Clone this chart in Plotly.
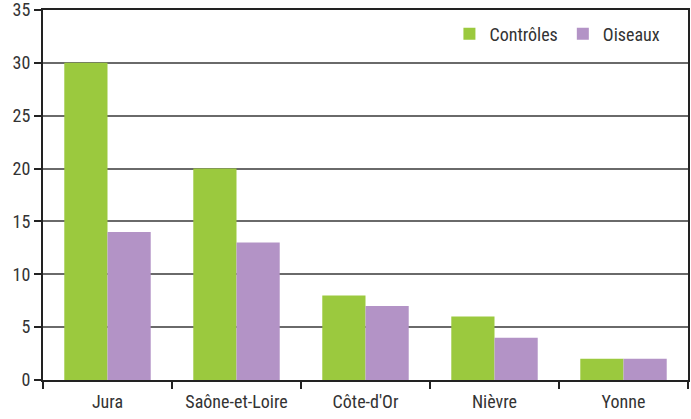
import plotly.graph_objects as go

categories = ["Jura", "Saône-et-Loire", "Côte-d'Or", "Nièvre", "Yonne"]
controles = [30, 20, 8, 6, 2]
oiseaux = [14, 13, 7, 4, 2]
y_ticks = [0, 5, 10, 15, 20, 25, 30, 35]

font_family = "Liberation Sans Narrow, Roboto Condensed, Arial Narrow, Liberation Sans, sans-serif"

fig = go.Figure()
fig.add_trace(go.Bar(x=categories, y=controles, name="Contrôles",
                     marker=dict(color="#9BC93E", line=dict(width=0))))
fig.add_trace(go.Bar(x=categories, y=oiseaux, name="Oiseaux",
                     marker=dict(color="#B393C6", line=dict(width=0))))

fig.update_layout(
    width=691, height=419,
    margin=dict(l=43, r=3, t=10, b=39),
    paper_bgcolor="white", plot_bgcolor="white",
    barmode="group", bargap=0.33, bargroupgap=0,
    font=dict(family=font_family, size=18, color="#333333"),
    legend=dict(orientation="h", x=0.965, y=0.985, xanchor="right", yanchor="top",
                font=dict(size=18, color="#333333"), itemwidth=30,
                bgcolor="rgba(0,0,0,0)"),
    xaxis=dict(showline=True, linecolor="#222222", linewidth=2, mirror=True,
               ticks="outside", tickson="boundaries", ticklen=7, tickcolor="#222222",
               tickwidth=1.5, showgrid=False, automargin=False,
               ticklabelstandoff=4, ticklabeloverflow="allow"),
    yaxis=dict(range=[0, 35], tickvals=y_ticks, showline=True, linecolor="#222222",
               linewidth=2, mirror=True, ticks="outside", ticklen=7,
               tickcolor="#222222", tickwidth=1.5, showgrid=True,
               gridcolor="#6a6a6a", gridwidth=2, zeroline=False, automargin=False,
               ticklabeloverflow="allow"),
)

fig.write_html("out.html", config={"displayModeBar": False},
               post_script="document.body.style.margin='0';")
